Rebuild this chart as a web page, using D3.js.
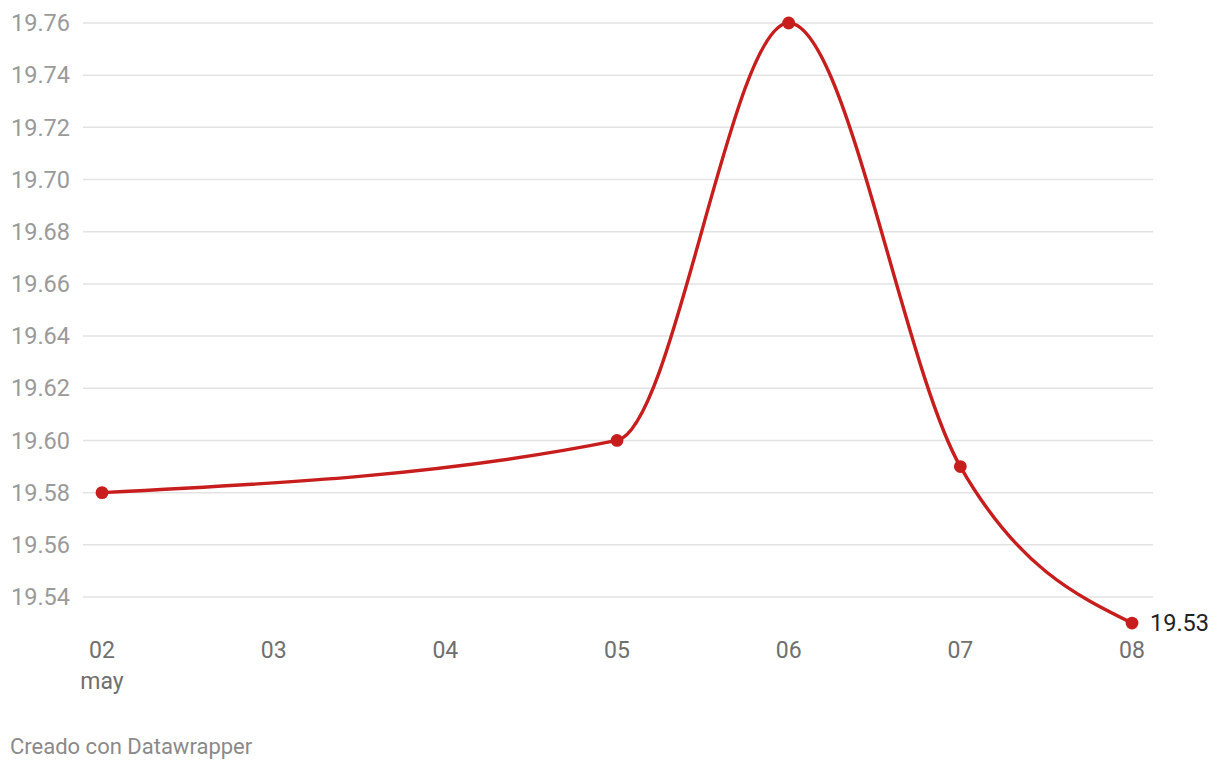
<!DOCTYPE html>
<html><head><meta charset="utf-8">
<script src="https://cdn.jsdelivr.net/npm/d3@7"></script>
<style>
body{margin:0;background:#fff;font-family:Roboto,sans-serif;}
</style></head><body>
<svg id="c" width="1220" height="770"></svg>
<script>
const dates = ["2024-05-02","2024-05-05","2024-05-06","2024-05-07","2024-05-08"];
const values = [19.58, 19.60, 19.76, 19.59, 19.53];
const xTickDays = ["2024-05-02","2024-05-03","2024-05-04","2024-05-05","2024-05-06","2024-05-07","2024-05-08"];
const yTicks = [19.54,19.56,19.58,19.60,19.62,19.64,19.66,19.68,19.70,19.72,19.74,19.76];
const footer = "Creado con Datawrapper";

const parse = d3.utcParse("%Y-%m-%d");
const data = dates.map((d,i)=>({date:parse(d), value:values[i]}));
const svg = d3.select("#c");

const x = d3.scaleUtc().domain([parse(xTickDays[0]), parse(xTickDays[xTickDays.length-1])]).range([102,1132]);
const y = d3.scaleLinear().domain([19.54,19.76]).range([597,23]);

// grid
const g = svg.append("g");
g.selectAll("line").data(yTicks).join("line")
  .attr("x1",83).attr("x2",1153)
  .attr("y1",d=>y(d)).attr("y2",d=>y(d))
  .attr("stroke","#e3e3e3").attr("stroke-width",1.5);
g.selectAll("text").data(yTicks).join("text")
  .attr("x",70).attr("y",d=>y(d)).attr("dy","0.35em")
  .attr("text-anchor","end").attr("fill","#9a9a9a")
  .style("font-size","23.5px").text(d=>d.toFixed(2));

// x axis
const xa = svg.append("g");
const fmt = d3.utcFormat("%d");
xa.selectAll("text.t").data(xTickDays.map(parse)).join("text").attr("class","t")
  .attr("x",d=>x(d)).attr("y",650).attr("dy","0.35em")
  .attr("text-anchor","middle").attr("fill","#6f6f6f")
  .style("font-size","23px").text(d=>fmt(d));
xa.append("text").attr("x",x(parse(xTickDays[0]))).attr("y",681).attr("dy","0.35em")
  .attr("text-anchor","middle").attr("fill","#6f6f6f").style("font-size","23px").text("may");

// line
const line = d3.line().x(d=>x(d.date)).y(d=>y(d.value)).curve(d3.curveMonotoneX);
svg.append("path").datum(data).attr("d",line).attr("fill","none")
  .attr("stroke","#c71e1d").attr("stroke-width",3.4).attr("stroke-linejoin","round");
svg.selectAll("circle").data(data).join("circle")
  .attr("cx",d=>x(d.date)).attr("cy",d=>y(d.value)).attr("r",6.4).attr("fill","#c71e1d");

const last = data[data.length-1];
svg.append("text").attr("x",x(last.date)+18).attr("y",y(last.value)).attr("dy","0.35em")
  .attr("fill","#222").style("font-size","23.5px").text(last.value.toFixed(2));

svg.append("text").attr("x",10).attr("y",746).attr("dy","0.35em")
  .attr("fill","#8a8a8a").style("font-size","22px").text(footer);
</script>
</body></html>
